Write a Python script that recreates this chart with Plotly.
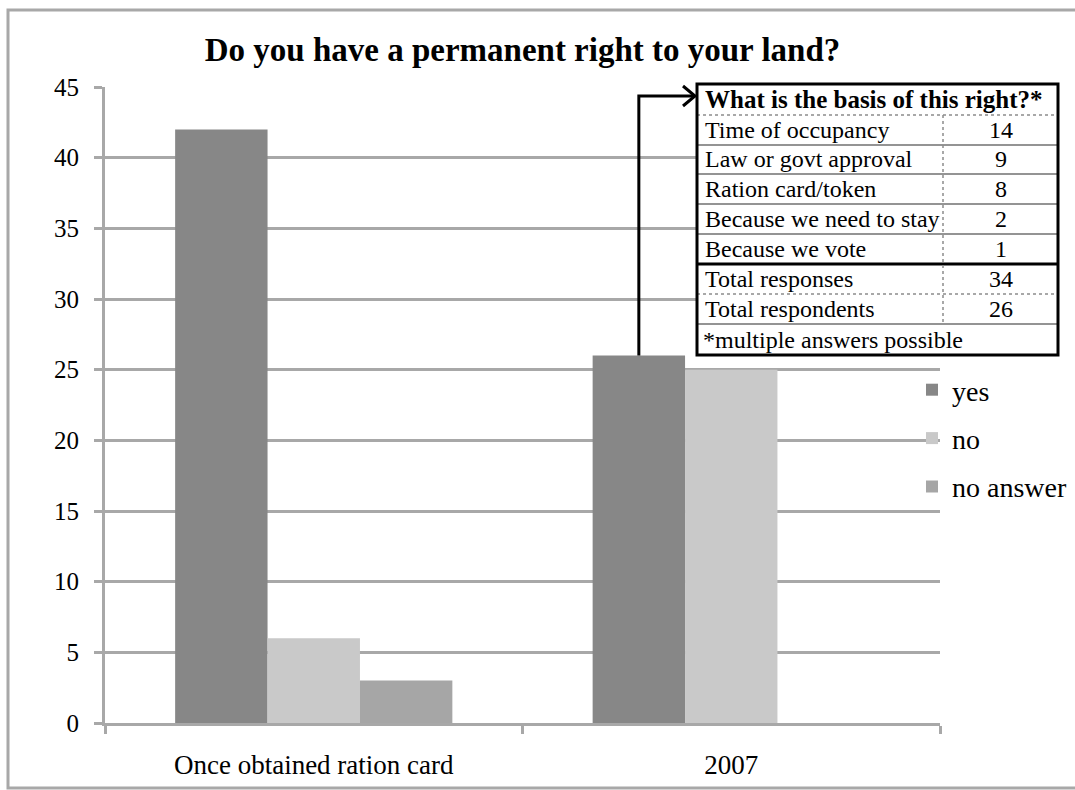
import plotly.graph_objects as go

# Survey answers per period
categories = ["Once obtained ration card", "2007"]
series_names = ["yes", "no", "no answer"]
yes_vals = [42, 26]
no_vals = [6, 25]
no_answer_vals = [3, 0]

# Inset table: basis of the claimed right
basis_labels = ["Time of occupancy", "Law or govt approval", "Ration card/token",
                "Because we need to stay", "Because we vote"]
basis_counts = [14, 9, 8, 2, 1]
total_labels = ["Total responses", "Total respondents"]
total_counts = [34, 26]
table_title = "What is the basis of this right?*"
table_note = "*multiple answers possible"

y_ticks = [0, 5, 10, 15, 20, 25, 30, 35, 40, 45]

colors = ["#878787", "#c9c9c9", "#a6a6a6"]
SERIF = "Liberation Serif, Times New Roman, serif"
GRID = "#a8a8a8"

W, H = 1075, 790
L, R, T, B = 105, 940, 87, 723
PW, PH = R - L, B - T
BARGAP = 0.336


def xp(px):
    return (px - L) / PW


def yp(py):
    return (B - py) / PH


fig = go.Figure()
for name, vals, col in zip(series_names, [yes_vals, no_vals, no_answer_vals], colors):
    fig.add_trace(go.Bar(
        x=categories, y=vals, name=name, marker=dict(color=col, line=dict(width=0)),
        legendgroup=name, hoverinfo="skip",
    ))

shapes = []
annotations = []

# outer frame of the chart
shapes.append(dict(type="rect", xref="paper", yref="paper",
                   x0=xp(8), x1=xp(1090), y0=yp(10), y1=yp(788),
                   line=dict(color="#a8a8a8", width=3), fillcolor="rgba(0,0,0,0)", layer="below"))

# arrow from the 2007 "yes" bar to the table
bar_w = (1 - BARGAP) / 3
yes_center = 1 - bar_w  # category index of 2007 is 1; "yes" is the first bar in the group
arrow_x = (yes_center + 0.5) / 2
arrow_top = yp(96)
bar_top = yes_vals[1] / 45
tip = xp(695)
shapes.append(dict(type="path", xref="paper", yref="paper",
                   path=f"M{arrow_x},{bar_top} L{arrow_x},{arrow_top} L{tip},{arrow_top}",
                   line=dict(color="black", width=3)))
shapes.append(dict(type="path", xref="paper", yref="paper",
                   path=f"M{xp(683)},{yp(86)} L{tip},{arrow_top} L{xp(683)},{yp(106)}",
                   line=dict(color="black", width=3)))

# table geometry
tx0, tx1, tdiv = 697, 1058, 943
rows_y = [84, 115, 145, 174, 204, 234, 264, 294, 324, 355]

shapes.append(dict(type="rect", xref="paper", yref="paper",
                   x0=xp(tx0), x1=xp(tx1), y0=yp(rows_y[0]), y1=yp(rows_y[-1]),
                   fillcolor="white", line=dict(width=0)))


def hline(py, color, width, dash="solid"):
    shapes.append(dict(type="line", xref="paper", yref="paper",
                       x0=xp(tx0), x1=xp(tx1), y0=yp(py), y1=yp(py),
                       line=dict(color=color, width=width, dash=dash)))


hline(rows_y[1], "#8c8c8c", 1.5, "dot")
for py in rows_y[2:6]:
    hline(py, "#707070", 1.5)
hline(rows_y[6], "black", 3)
hline(rows_y[7], "#8c8c8c", 1.5, "dot")
hline(rows_y[8], "#707070", 1.5)
shapes.append(dict(type="line", xref="paper", yref="paper",
                   x0=xp(tdiv), x1=xp(tdiv), y0=yp(rows_y[1]), y1=yp(rows_y[8]),
                   line=dict(color="#8c8c8c", width=1.5, dash="dot")))
shapes.append(dict(type="rect", xref="paper", yref="paper",
                   x0=xp(tx0), x1=xp(tx1), y0=yp(rows_y[0]), y1=yp(rows_y[-1]),
                   line=dict(color="black", width=3), fillcolor="rgba(0,0,0,0)"))

annotations.append(dict(xref="paper", yref="paper", x=xp((tx0 + tx1) / 2 - 4),
                        y=yp((rows_y[0] + rows_y[1]) / 2), text=f"<b>{table_title}</b>",
                        showarrow=False, xanchor="center", yanchor="middle",
                        font=dict(family=SERIF, size=25, color="black")))
row_labels = basis_labels + total_labels
row_values = basis_counts + total_counts
for i, (lab, val) in enumerate(zip(row_labels, row_values)):
    cy = yp((rows_y[i + 1] + rows_y[i + 2]) / 2)
    annotations.append(dict(xref="paper", yref="paper", x=xp(703), y=cy, text=lab,
                            showarrow=False, xanchor="left", yanchor="middle",
                            font=dict(family=SERIF, size=24, color="black")))
    annotations.append(dict(xref="paper", yref="paper", x=xp((tdiv + tx1) / 2), y=cy, text=str(val),
                            showarrow=False, xanchor="center", yanchor="middle",
                            font=dict(family=SERIF, size=24, color="black")))
annotations.append(dict(xref="paper", yref="paper", x=xp(701), y=yp((rows_y[8] + rows_y[9]) / 2),
                        text=table_note, showarrow=False, xanchor="left", yanchor="middle",
                        font=dict(family=SERIF, size=24, color="black")))

fig.update_layout(
    width=W, height=H,
    margin=dict(l=L, r=W - R, t=T, b=H - B, pad=0, autoexpand=False),
    paper_bgcolor="white", plot_bgcolor="white",
    barmode="group", bargap=BARGAP, bargroupgap=0,
    title=dict(text="<b>Do you have a permanent right to your land?</b>",
               x=0.5, xref="paper", xanchor="center", y=1 - 49 / H, yanchor="middle",
               font=dict(family=SERIF, size=33, color="black")),
    font=dict(family=SERIF, color="black"),
    xaxis=dict(range=[-0.5, 1.5], showline=True, linecolor=GRID, linewidth=3,
               ticks="outside", tickson="boundaries", ticklen=8, tickwidth=3, tickcolor=GRID,
               tickfont=dict(family=SERIF, size=27, color="black"), ticklabelstandoff=16,
               showgrid=False, zeroline=False, automargin=False),
    yaxis=dict(range=[0, 45], tickvals=y_ticks, showline=True, linecolor=GRID, linewidth=3,
               ticks="outside", ticklen=8, tickwidth=3, tickcolor=GRID,
               tickfont=dict(family=SERIF, size=25, color="black"), ticklabelstandoff=10,
               showgrid=True, gridcolor=GRID, gridwidth=3, zeroline=False, automargin=False),
    legend=dict(x=xp(912), y=yp(365), xanchor="left", yanchor="top", xref="paper", yref="paper",
                font=dict(family=SERIF, size=28, color="black"), tracegroupgap=9,
                bgcolor="rgba(0,0,0,0)", itemwidth=30),
    shapes=shapes, annotations=annotations,
)

fig.write_html("out.html")
